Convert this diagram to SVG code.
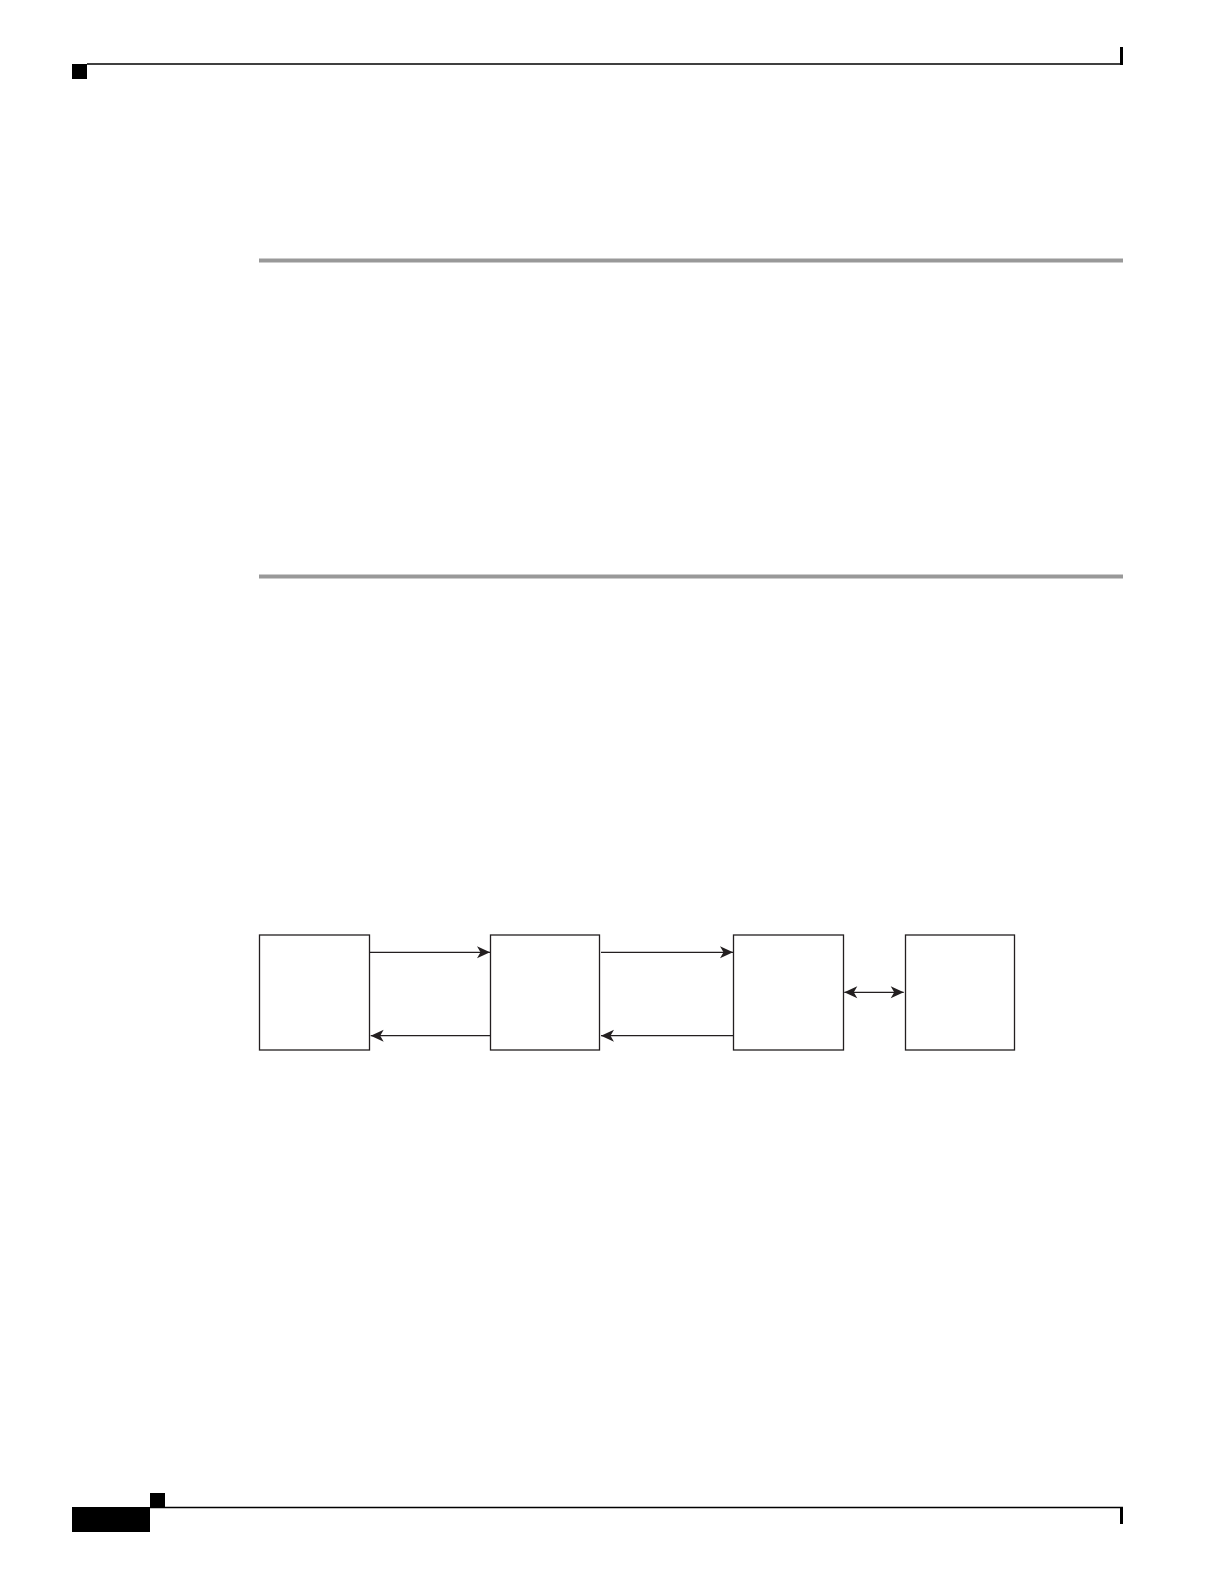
<svg xmlns="http://www.w3.org/2000/svg" width="1224" height="1584" viewBox="0 0 1224 1584">
<style>
.box{fill:#ffffff;stroke:#231f20;stroke-width:1.3}
.conn{stroke:#231f20;stroke-width:1.3;fill:none}
.rule{stroke:#999999;stroke-width:4}
</style>
<defs>
<marker id="ah" markerUnits="userSpaceOnUse" markerWidth="16" markerHeight="14" viewBox="-1 -7 16 14" refX="13" refY="0" orient="auto-start-reverse">
<path d="M0,-6 L13,0 L0,6 L3.5,0 Z" fill="#231f20"/>
</marker>
</defs>
<rect width="1224" height="1584" fill="#ffffff"/>
<g id="page-header">
<rect x="72" y="64" width="15" height="15" fill="#000"/>
<line x1="87" y1="64" x2="1123" y2="64" stroke="#000" stroke-width="1.6"/>
<rect x="1120" y="47" width="3" height="18" fill="#000"/>
</g>
<g id="rules">
<line class="rule" x1="259" y1="260.5" x2="1123" y2="260.5"/>
<line class="rule" x1="259" y1="576.5" x2="1123" y2="576.5"/>
</g>
<g id="page-footer">
<rect x="150" y="1493" width="15" height="14" fill="#000"/>
<rect x="72" y="1507" width="78" height="25" fill="#000"/>
<line x1="150" y1="1507.5" x2="1123" y2="1507.5" stroke="#000" stroke-width="1.6"/>
<rect x="1120" y="1507" width="3" height="17" fill="#000"/>
</g>
<g id="node1"><rect class="box" x="259.5" y="935" width="110" height="115"/></g>
<g id="node2"><rect class="box" x="490.5" y="935" width="109" height="115"/></g>
<g id="node3"><rect class="box" x="733.5" y="935" width="110" height="115"/></g>
<g id="node4"><rect class="box" x="905.5" y="935" width="109" height="115"/></g>
<g id="connectors">
<line class="conn" x1="370" y1="952.3" x2="490" y2="952.3" marker-end="url(#ah)"/>
<line class="conn" x1="601" y1="952.3" x2="733" y2="952.3" marker-end="url(#ah)"/>
<line class="conn" x1="490" y1="1035.7" x2="370.7" y2="1035.7" marker-end="url(#ah)"/>
<line class="conn" x1="733" y1="1035.7" x2="601" y2="1035.7" marker-end="url(#ah)"/>
<line class="conn" x1="844.3" y1="992.3" x2="903.7" y2="992.3" marker-start="url(#ah)" marker-end="url(#ah)"/>
</g>
</svg>
